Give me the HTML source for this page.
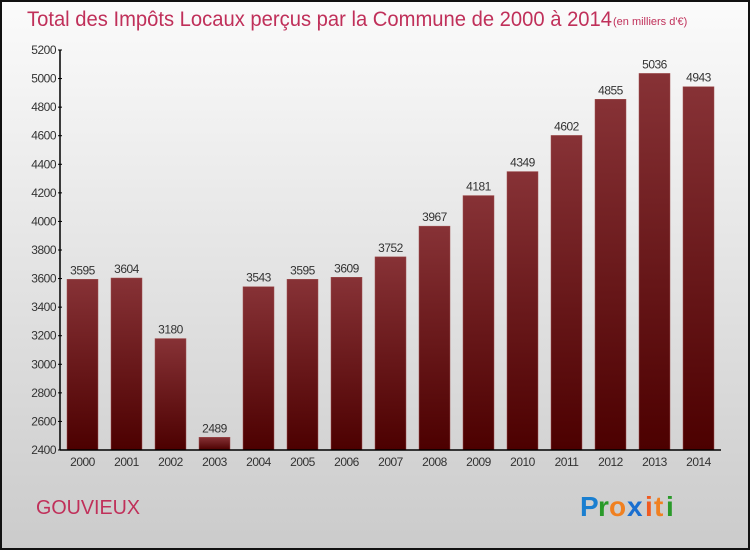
<!DOCTYPE html>
<html><head><meta charset="utf-8"><style>
html,body{margin:0;padding:0;}
body{width:750px;height:550px;overflow:hidden;font-family:"Liberation Sans",sans-serif;}
</style></head><body>
<svg id="chart" width="750" height="550" xmlns="http://www.w3.org/2000/svg">
<defs>
<linearGradient id="bg" x1="0" y1="0" x2="0" y2="1"><stop offset="0" stop-color="#fbfbfb"/><stop offset="1" stop-color="#cbcbcb"/></linearGradient>
<linearGradient id="bar" x1="0" y1="0" x2="0" y2="1"><stop offset="0" stop-color="#873236"/><stop offset="1" stop-color="#4c0000"/></linearGradient>
</defs>
<rect x="1" y="1" width="748" height="548" fill="url(#bg)" stroke="#111" stroke-width="2"/>
<text x="27" y="26" font-size="21" fill="#c0305a" textLength="585" lengthAdjust="spacingAndGlyphs">Total des Impôts Locaux perçus par la Commune de 2000 à 2014</text>
<text x="613" y="25" font-size="11" fill="#c0305a">(en milliers d'€)</text>
<g id="yaxis"></g>
<g id="bars"></g>
<g id="xaxis"></g>
<text x="36" y="514" font-size="20" fill="#c0305a" textLength="104" lengthAdjust="spacingAndGlyphs">GOUVIEUX</text>
<g font-size="28" font-weight="bold" font-family="Liberation Sans, sans-serif">
<text x="580" y="516" fill="#1a7fd0">P</text><text x="598" y="516" fill="#2a9a2a">r</text><text x="609" y="516" fill="#f08020">o</text><text x="627" y="516" fill="#1a6fd0">x</text><text x="645" y="516" fill="#f05a20">i</text><text x="654" y="516" fill="#f08020">t</text><text x="666" y="516" fill="#2a9a2a">i</text>
</g>
</svg>
<script>
const years=["2000","2001","2002","2003","2004","2005","2006","2007","2008","2009","2010","2011","2012","2013","2014"];
const values=[3595,3604,3180,2489,3543,3595,3609,3752,3967,4181,4349,4602,4855,5036,4943];
const yTicks=[2400,2600,2800,3000,3200,3400,3600,3800,4000,4200,4400,4600,4800,5000,5200];
const NS="http://www.w3.org/2000/svg";
const y0=450,y1=50,vmin=2400,vmax=5200;
function yScale(v){return y0-(v-vmin)/(vmax-vmin)*(y0-y1);}
function xScale(i){return 82.5+44*i;}
function mk(t,a,p){const e=document.createElementNS(NS,t);for(const k in a)e.setAttribute(k,a[k]);p.appendChild(e);return e;}
const ya=document.getElementById('yaxis'),xa=document.getElementById('xaxis'),bg=document.getElementById('bars');
mk('line',{x1:60,y1:y1,x2:60,y2:y0,stroke:'#000','stroke-width':1.5},ya);
yTicks.forEach(v=>{
 const y=yScale(v);
 mk('line',{x1:58,y1:y,x2:62,y2:y,stroke:'#000'},ya);
 const t=mk('text',{x:56,y:y+4,'font-size':12,fill:'#333','text-anchor':'end','letter-spacing':'-0.5'},ya);
 
 
 t.textContent=v;
});
mk('line',{x1:60,y1:y0,x2:721,y2:y0,stroke:'#000','stroke-width':1.5},xa);
values.forEach((v,i)=>{
 const x=xScale(i),y=yScale(v);
 const r=mk('rect',{x:x-15.5,y:y,width:31,height:y0-y,fill:'url(#bar)',stroke:'#a05050','stroke-width':0.5},bg);
 
 
 const t=mk('text',{x:x,y:y-5,'font-size':12,fill:'#333','text-anchor':'middle','letter-spacing':'-0.5'},bg);
 
 
 t.textContent=v;
 const l=mk('text',{x:x,y:466,'font-size':12,fill:'#333','text-anchor':'middle','letter-spacing':'-0.5'},xa);
 
 
 l.textContent=years[i];
});
</script>
</body></html>
